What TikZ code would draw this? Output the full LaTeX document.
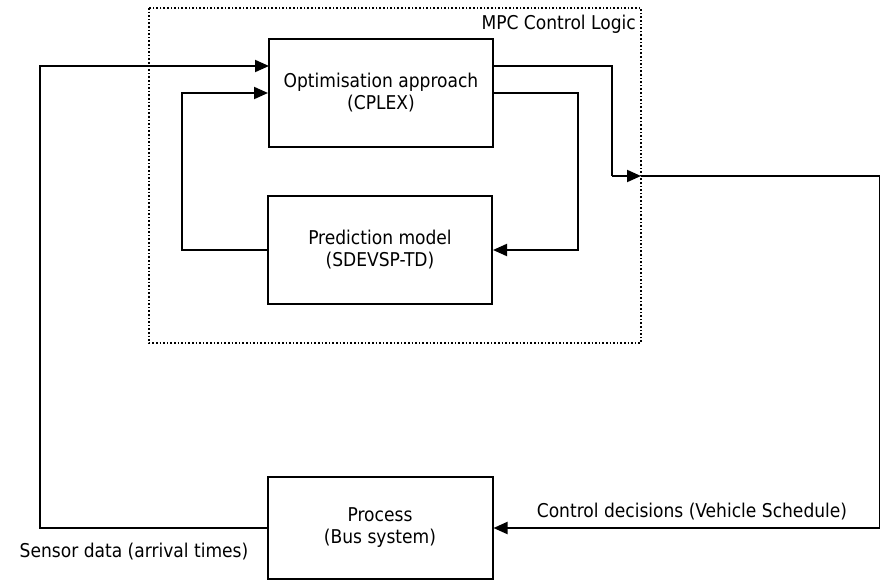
\documentclass[tikz,border=0pt]{standalone}
\usepackage{fontspec}
\setmainfont{DejaVu Sans Condensed}
\usetikzlibrary{arrows.meta}
\begin{document}
\begin{tikzpicture}[x=1pt,y=-1pt,
  box/.style={draw,line width=2pt,minimum width=224pt,minimum height=108pt,align=center,inner sep=0pt,font=\fontsize{19}{22}\selectfont},
  wire/.style={line width=2pt},
  arr/.style={wire,-{Triangle[length=14pt,width=12pt]}},
  lbl/.style={font=\fontsize{19}{22}\selectfont,inner sep=0pt}]
\useasboundingbox (0,0) rectangle (880,586);
\draw[line width=1.6pt,dotted] (149,8) rectangle (641,343);
\coordinate (frameE) at (641,176);
\node[lbl,anchor=north east] (mpc) at (636,15) {MPC Control Logic};
\node[box] (opt) at (381,93) {Optimisation approach\\(CPLEX)};
\node[box] (pred) at (380,250) {Prediction model\\(SDEVSP-TD)};
\node[box,minimum width=225pt,minimum height=102pt] (proc) at (380,528) {Process\\(Bus system)};
\coordinate (inA) at (269,66);
\coordinate (outA) at (493,66);
\coordinate (c612) at (612,176);
\coordinate (c880) at (880,176);
\coordinate (c578) at (578,250);
\coordinate (c182) at (182,93);
\coordinate (c40) at (40,528);
% output to frame edge
\draw[wire] (outA) -| (c612);
\draw[arr] (c612) -- (frameE);
\draw[wire] (frameE) -- (c880);
\draw[arr] (c880) |- (proc.east);
% opt -> pred
\draw[arr] (opt.east) -| (c578) -- (pred.east);
% pred -> opt
\draw[arr] (pred.west) -| (c182) -- (opt.west);
% proc -> opt
\draw[arr] (proc.west) -- (c40) |- (inA);
\node[lbl] (sensor) at (134,552) {Sensor data (arrival times)};
\node[lbl] (ctrl) at (692,512) {Control decisions (Vehicle Schedule)};
\end{tikzpicture}
\end{document}
